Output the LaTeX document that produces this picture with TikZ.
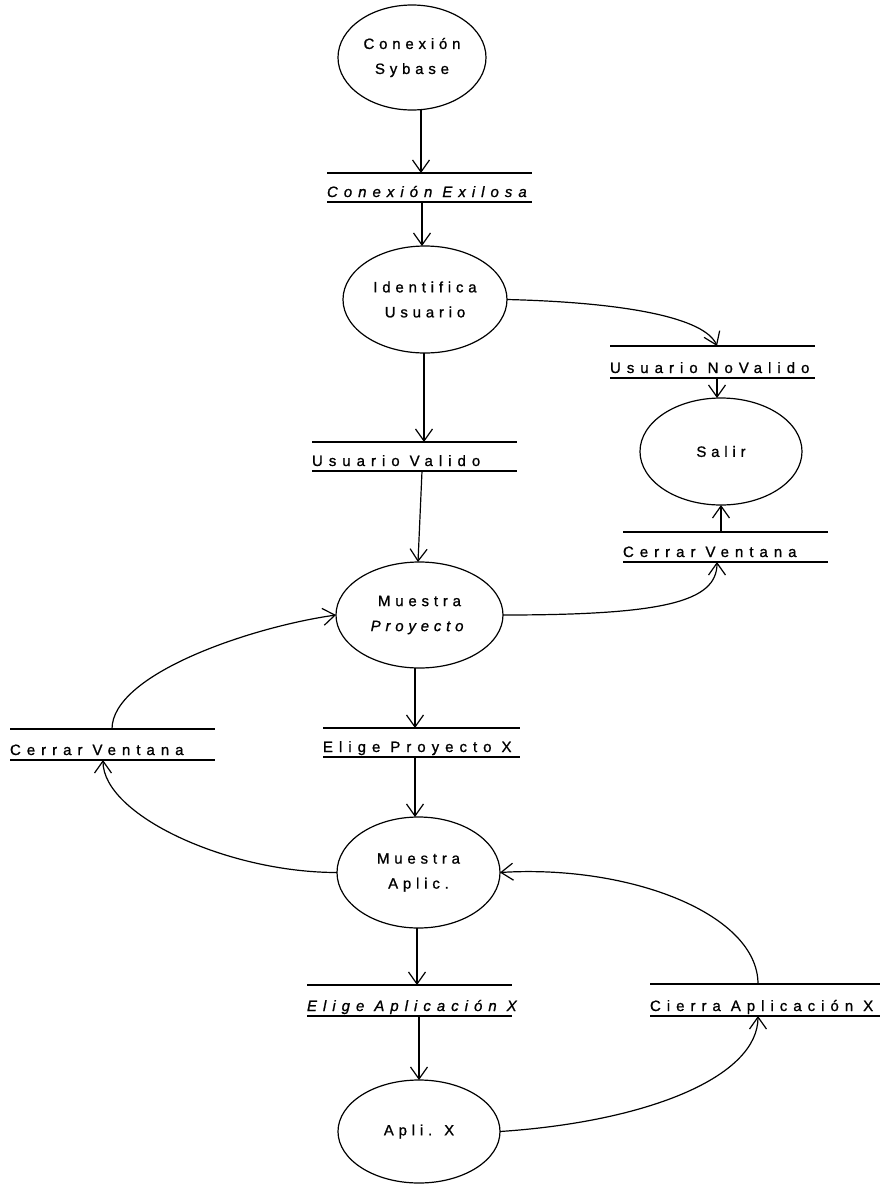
\documentclass[tikz,border=0pt]{standalone}
\usepackage{fontspec}
\setmainfont{Liberation Sans}
\newfontfamily\ellfont[LetterSpace=32,FakeBold=1]{Liberation Sans}
\newfontfamily\storefont[LetterSpace=40,FakeBold=1]{Liberation Sans}
% unbreakable, wide gap between the words of a store label
\newcommand\wgap{\nobreak\hspace{10pt}\nobreak}
\usetikzlibrary{shapes.geometric,arrows.meta}
\begin{document}
\begin{tikzpicture}[x=1pt,y=-1pt,
  every node/.style={inner sep=0pt, outer sep=0pt},
  proc/.style={ellipse, draw, line width=1.2pt, align=center,
    font=\ellfont\fontsize{15}{25}\selectfont},
  store/.style={text width=#1, align=left, text depth=5pt,
    font=\storefont\fontsize{15}{18}\selectfont},
  flow/.style={line width=1.2pt,
    -{Straight Barb[length=12pt,width=17pt,line width=1.2pt]}},
  rule/.style={line width=1.2pt}
]
\useasboundingbox[fill=white] (0,0) rectangle (885,1184);

% processes
\node[proc, minimum width=148pt, minimum height=105pt] (syb)    at (412,57.5)   {Conexión\\Sybase};
\node[proc, minimum width=164pt, minimum height=107pt] (ident)  at (425,299.5)  {Identifica\\Usuario};
\node[proc, minimum width=162pt, minimum height=107pt] (salir)  at (721,451.5)  {Salir};
\node[proc, minimum width=167pt, minimum height=106pt] (mproy)  at (419.5,615)  {Muestra\\\textit{Proyecto}};
\node[proc, minimum width=163pt, minimum height=111pt] (maplic) at (418.5,872.5) {Muestra\\Aplic.};
\node[proc, minimum width=162pt, minimum height=103pt] (aplix)  at (419,1131.5) {Apli. X};

% data stores
\node[store=205pt, text height=24pt] (exi)    at (429.5,187.5) {\itshape Conexión\wgap Exilosa};
\node[store=205pt, text height=27pt] (noval)  at (712.5,362)   {Usuario\wgap NoValido};
\node[store=205pt, text height=25pt] (crR)    at (725.5,547)   {Cerrar\wgap Ventana};
\node[store=205pt, text height=24pt] (uval)   at (414.5,456.5) {Usuario\wgap Valido};
\node[store=205pt, text height=26pt] (crL)    at (112.5,744.5) {Cerrar\wgap Ventana};
\node[store=197pt, text height=24pt] (eproy)  at (421.5,742.5) {Elige\wgap Proyecto\wgap X};
\node[store=205pt, text height=26pt] (eaplic) at (409.5,1000.5) {\itshape Elige\wgap Aplicación\wgap X};
\node[store=230pt, text height=27pt] (cierra) at (765,1000)    {Cierra\wgap Aplicación\wgap X};

\foreach \s in {exi,noval,crR,uval,crL,eproy,eaplic,cierra}
  \draw[rule] (\s.north west) -- (\s.north east) (\s.south west) -- (\s.south east);

% flows
\draw[flow] ([xshift=9pt]syb.south) -- ([xshift=9pt]syb.south |- exi.north);
\draw[flow] ([xshift=-7.5pt]exi.south) -- ([xshift=-7.5pt]exi.south |- ident.north);
\draw[flow] (ident.east) .. controls +(120,3) and +(-12,-28) .. ([xshift=4.5pt]noval.north);
\draw[flow] ([xshift=4.5pt]noval.south) -- ([xshift=-4pt]salir.north);
\draw[flow] ([xshift=-1pt]ident.south) -- ([xshift=-1pt]ident.south |- uval.north);
\draw[flow] ([xshift=7.5pt]uval.south) -- ([xshift=-1.5pt]mproy.north);
\draw[flow] (mproy.east) .. controls +(160,0) and +(0,40) .. ([xshift=-8.5pt]crR.south);
\draw[flow] ([xshift=-4.5pt]crR.north) -- (salir.south);
\draw[flow] ([xshift=-4.5pt]mproy.south) -- ([xshift=-4.5pt]mproy.south |- eproy.north);
\draw[flow] ([xshift=-6.5pt]eproy.south) -- ([xshift=-3.5pt]maplic.north);
\draw[flow] ([xshift=-0.5pt]crL.north) .. controls +(0,-55) and +(-85,12) .. (mproy.west);
\draw[flow] (maplic.west) .. controls +(-110,0) and +(0,55) .. ([xshift=-9.5pt]crL.south);
\draw[flow] ([xshift=-1.5pt]maplic.south) -- ([xshift=-1.5pt]maplic.south |- eaplic.north);
\draw[flow] (eaplic.south -| aplix.north) -- (aplix.north);
\draw[flow] (aplix.east) .. controls +(150,-10) and +(0,60) .. ([xshift=-7pt]cierra.south);
\draw[flow] ([xshift=-7pt]cierra.north) .. controls +(0,-70) and +(130,-8) .. (maplic.east);
\end{tikzpicture}
\end{document}
